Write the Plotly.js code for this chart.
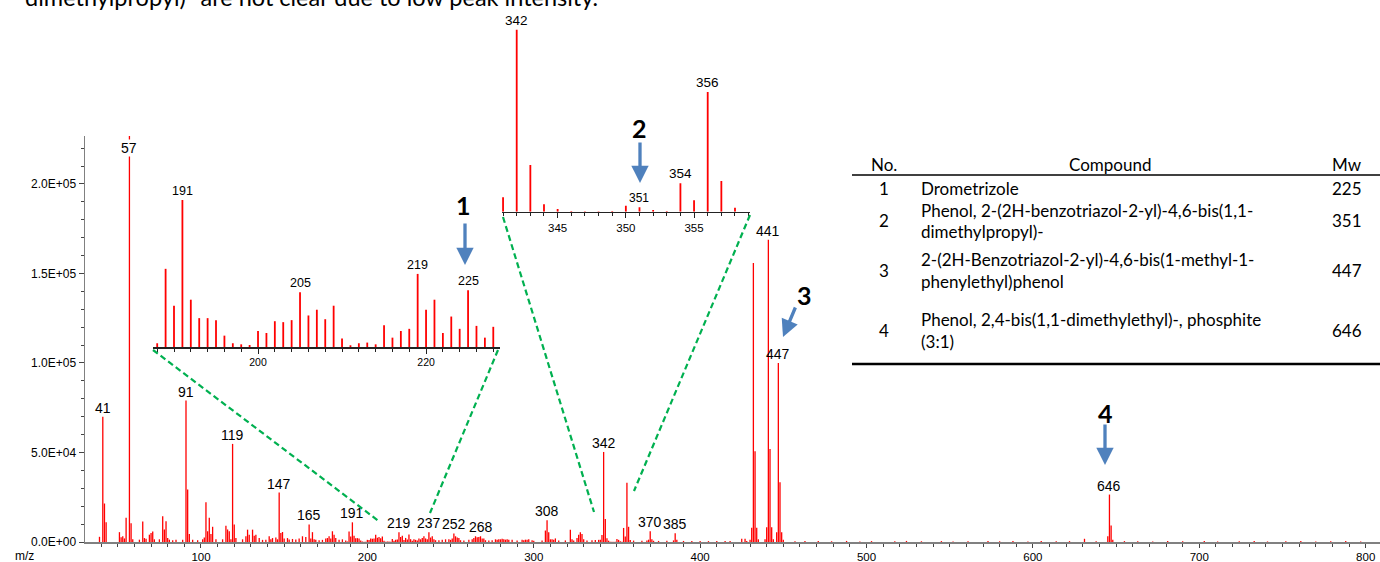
<!DOCTYPE html>
<html><head><meta charset="utf-8">
<script src="https://cdn.plot.ly/plotly-3.0.1.min.js"></script>
<style>html,body{margin:0;padding:0;background:#fff;overflow:hidden}#chart{width:1380px;height:562px}</style>
</head><body><div id="chart"></div>
<script>
// ---------------- data ----------------
const mz = [39,41,42,43,51,52,53,54,55,57,58,59,63,65,66,67,69,70,71,72,75,77,78,79,80,81,83,85,89,
  91,92,93,95,98,101,102,103,104,105,106,107,109,113,115,116,117,118,119,120,121,125,127,128,129,131,132,133,135,137,139,
  141,142,143,145,146,147,148,149,150,152,153,155,157,159,161,163,165,166,167,168,169,171,173,175,176,177,178,179,180,181,183,185,187,
  188,189,190,191,192,193,194,195,196,197,198,199,200,201,202,203,204,205,206,207,208,209,210,211,212,213,214,215,216,217,218,219,220,221,222,223,224,225,226,227,228,
  229,230,231,232,233,234,235,236,237,238,239,240,241,243,245,247,249,250,251,252,253,254,255,256,258,261,263,264,265,266,267,268,269,270,271,273,275,
  277,278,279,280,281,282,283,284,285,287,290,293,294,295,296,297,299,300,305,307,308,309,310,311,312,313,315,319,322,323,324,326,327,328,329,330,332,335,337,339,340,
  341,342,343,344,345,346,347,348,349,350,351,352,353,354,355,356,357,358,
  360,365,368,369,370,371,372,375,380,384,385,386,390,395,400,405,410,415,418,425,427,428,430,
  431,432,433,434,435,439,440,441,442,443,444,446,447,448,449,450,
  457,463,471,479,488,496,503,517,524,533,545,552,561,573,580,588,597,605,614,622,631,638,645,646,647,648,
  655,663,672,681,690,703,711,724,733,741,752,761,770,779,788,797];
const intensity = [2900,70000,21500,11000,5500,2600,3200,2000,13500,230000,10500,1500,1300,11500,2200,1800,4100,5000,5800,1500,1500,14400,7000,11600,2200,1300,1000,1200,1300,
  79000,29300,4500,1200,1000,1500,2500,22200,6000,13600,4500,8500,1500,1500,9100,7000,6000,1500,54800,9800,2200,1500,3200,6900,4100,6900,3500,4100,2200,1200,1300,
  3200,1500,2200,2500,1500,27600,5000,5600,2000,2200,1400,1700,1400,2000,3200,2800,9800,2000,5500,1500,1200,1000,1200,2000,2200,3200,2000,6000,4100,2200,1200,1500,800,
  280,5850,3090,11000,3540,2160,2160,2010,850,280,200,150,1200,1050,1930,1860,2010,4090,2360,2790,2080,3090,630,130,280,330,200,1630,700,1200,1360,5470,2790,3540,1050,2280,1360,4240,1580,700,1510,
  1200,800,2000,1500,2200,3200,2000,1500,5500,2500,3200,1500,1000,1000,1200,1500,1500,1200,2000,4800,3200,2500,2200,1000,800,1200,1500,2200,3200,2600,2800,3200,2000,2000,1000,900,1000,
  1500,1300,1500,1500,1800,1500,1300,1500,1200,1200,900,1300,1000,1300,1200,1500,1000,700,900,6400,12200,5500,1500,1500,1200,2000,800,900,6800,1500,800,2200,4000,5500,4500,1500,900,1000,1100,1200,1200,
  3970,50300,12900,2030,740,180,90,90,180,1660,1200,460,180,7850,3140,33100,8490,1110,
  800,700,900,1300,6000,1500,700,600,700,900,4900,1200,600,500,500,500,600,500,600,1800,1800,600,1200,
  7900,155800,50700,7900,1500,1500,8200,168800,52000,8200,1500,5500,100000,33400,5500,1200,
  400,600,500,400,600,300,500,400,600,400,500,300,400,600,400,500,300,600,400,500,1800,400,3200,26500,9200,1300,
  500,400,300,500,400,500,300,400,500,300,400,500,300,400,500,300];

const mainLabelMz   = [41,57,91,119,147,165,191,219,237,252,268,308,342,370,385,441,447,646];
const inset1LabelMz = [191,205,219,225];
const inset2LabelMz = [342,351,354,356];
const yTickVals = [0,50000,100000,150000,200000];
const yTickText = ['0.0E+00','5.0E+04','1.0E+05','1.5E+05','2.0E+05'];

const tableHeader  = ['No.','Compound','Mw'];
const compoundNo   = ['1','2','3','4'];
const compoundName = ['Drometrizole',
  'Phenol, 2-(2H-benzotriazol-2-yl)-4,6-bis(1,1-<br>dimethylpropyl)-',
  '2-(2H-Benzotriazol-2-yl)-4,6-bis(1-methyl-1-<br>phenylethyl)phenol',
  'Phenol, 2,4-bis(1,1-dimethylethyl)-, phosphite<br>(3:1)'];
const compoundMw   = ['225','351','447','646'];
const noteText = 'dimethylpropyl)- are not clear due to low peak intensity.';

// ---------------- geometry ----------------
const W=1380,H=562,ML=85,MR=0,MT=10,MB=20;
const PW=W-ML-MR, PH=H-MT-MB;
const px = x => (x-ML)/PW;
const py = y => (H-MB-y)/PH;
const yMax = 226800;
const ins1 = {x:[187.5,228.8], y:[0,11750]};
const ins2 = {x:[340.9,359.1], y:[0,51600]};

function sticks(lo, hi){
  const xs=[], ys=[];
  mz.forEach((m,i)=>{ if(m>=lo && m<=hi){ xs.push(m,m,null); ys.push(0,intensity[i],null);} });
  return {xs, ys};
}
const red = '#ff0000';
const sMain = sticks(0, 1000), s1 = sticks(ins1.x[0], ins1.x[1]), s2 = sticks(ins2.x[0], ins2.x[1]);
const traces = [
  {x:sMain.xs, y:sMain.ys, mode:'lines', line:{color:red, width:1.3}, hoverinfo:'skip', xaxis:'x', yaxis:'y'},
  {x:s1.xs, y:s1.ys, mode:'lines', line:{color:red, width:1.8}, hoverinfo:'skip', xaxis:'x2', yaxis:'y2'},
  {x:s2.xs, y:s2.ys, mode:'lines', line:{color:red, width:1.8}, hoverinfo:'skip', xaxis:'x3', yaxis:'y3'}
];

const baseFont = 'Liberation Sans, Arial, sans-serif';
const docFont = 'Lato, Open Sans, sans-serif';
const val = m => intensity[mz.indexOf(m)];
const ann = [];
mainLabelMz.forEach(m=>{
  const v = val(m), clipped = v > yMax;
  ann.push({xref:'x', yref:'y', x:m, y: clipped ? yMax*0.97 : v, xanchor:'center', yanchor: clipped?'middle':'bottom',
    text:String(m), showarrow:false, font:{size:14, color:'#000'}, bgcolor: clipped?'#ffffff':'rgba(0,0,0,0)', borderpad:0});
});
inset1LabelMz.forEach(m=>ann.push({xref:'x2', yref:'y2', x:m, y:val(m), xanchor:'center', yanchor:'bottom', text:String(m), showarrow:false, font:{size:12.5,color:'#000'}}));
inset2LabelMz.forEach(m=>ann.push({xref:'x3', yref:'y3', x:m, y:val(m), xanchor:'center', yanchor:'bottom', text:String(m), showarrow:false, font:{size:m===351?12:13.5,color:'#000'}}));

// paper-positioned text helper (explicit anchors)
function ptext(x, y, text, font, xanchor){
  return {xref:'paper', yref:'paper', x:px(x), y:py(y), xanchor:xanchor||'center', yanchor:'middle', text, showarrow:false, font};
}
ann.push(ptext(24, 556, 'm/z', {family:baseFont, size:12, color:'#000'}));
ann.push(ptext(23, -2.5, noteText, {family:docFont, size:23.5, color:'#000'}, 'left'));

// compound markers and arrows
const blue = '#4F81BD';
const markerPos = [[463,205],[639,128],[804,295],[1105,413]];
const arrowTip  = [[465,265],[640,183],[783,337],[1105,465]];
const arrowTail = [[465,222],[640,141],[796,306],[1105,423]];
compoundNo.forEach((n,i)=>{
  ann.push(ptext(markerPos[i][0], markerPos[i][1], '<b>'+n+'</b>', {family:docFont, size:25, color:'#000'}));
  ann.push({xref:'paper', yref:'paper', x:px(arrowTip[i][0]), y:py(arrowTip[i][1]), text:'', showarrow:true,
    ax:arrowTail[i][0]-arrowTip[i][0], ay:arrowTail[i][1]-arrowTip[i][1], arrowhead:2, arrowsize:1.05, arrowwidth:3.3, arrowcolor:blue, standoff:0});
});

// table
const tFont = {family:docFont, size:17, color:'#000'};
const colX = [884, 1110, 1347];
tableHeader.forEach((t,i)=>ann.push(ptext(colX[i], 165, t, tFont)));
const rowY = [188, 221, 270.5, 330.5];
compoundNo.forEach((n,i)=>{
  ann.push(ptext(884, rowY[i], n, tFont));
  ann.push(ptext(1347, rowY[i], compoundMw[i], tFont));
  const lines = compoundName[i].split('<br>');
  lines.forEach((ln,k)=>{
    const yy = rowY[i] + (k - (lines.length-1)/2)*22;
    ann.push(ptext(919, yy, ln, tFont, 'left'));
  });
});

const green = {color:'#00B050', width:2.2, dash:'6px,3.5px'};
const seg = (a,b,line)=>({type:'line', xref:'paper', yref:'paper', x0:px(a[0]), y0:py(a[1]), x1:px(b[0]), y1:py(b[1]), line});
const shapes = [
  seg([153,350],[380,522],green), seg([498,350],[430,513],green),
  seg([503,217],[594,512],green), seg([750,215],[634,491],green),
  seg([852,175],[1380,175],{color:'#000', width:1.5}),
  seg([852,364],[1380,364],{color:'#000', width:2.6})
];

const tickFont = {family:baseFont, size:12, color:'#000'};
const layout = {
  width:W, height:H, margin:{l:ML, r:MR, t:MT, b:MB, pad:0},
  paper_bgcolor:'#fff', plot_bgcolor:'rgba(0,0,0,0)', showlegend:false,
  font:{family:baseFont, color:'#000'},
  xaxis:{domain:[0,1], range:[30.3,808.6], showgrid:false, zeroline:false, showline:true, linecolor:'#808080', linewidth:1.5,
    tickmode:'linear', tick0:0, dtick:100, ticks:'outside', ticklen:4, tickcolor:'#444', tickfont:{family:baseFont, size:11.5, color:'#000'},
    minor:{tickmode:'linear', tick0:0, dtick:10, ticks:'outside', ticklen:3, tickcolor:'#444', showgrid:false}},
  yaxis:{domain:[0, py(136)], range:[0,yMax], showgrid:false, zeroline:false, showline:true, linecolor:'#808080', linewidth:1.5,
    tickmode:'array', tickvals:yTickVals, ticktext:yTickText, ticks:'outside', ticklen:5, tickcolor:'#444', tickfont:tickFont,
    minor:{tickmode:'linear', tick0:0, dtick:10000, ticks:'outside', ticklen:3, tickcolor:'#444', showgrid:false}},
  xaxis2:{domain:[px(153),px(500)], range:ins1.x, anchor:'y2', showgrid:false, zeroline:false, showline:true, linecolor:'#222', linewidth:1.5,
    tickmode:'linear', tick0:0, dtick:20, ticks:'outside', ticklen:5, tickcolor:'#222', tickfont:{family:baseFont,size:10.5,color:'#000'},
    minor:{tickmode:'linear', tick0:0, dtick:2, ticks:'outside', ticklen:3, tickcolor:'#222', showgrid:false}},
  yaxis2:{domain:[py(347),py(190)], range:ins1.y, anchor:'x2', visible:false},
  xaxis3:{domain:[px(501.7),px(750)], range:ins2.x, anchor:'y3', showgrid:false, zeroline:false, showline:true, linecolor:'#222', linewidth:1.5,
    tickmode:'linear', tick0:0, dtick:5, ticks:'outside', ticklen:5, tickcolor:'#222', tickfont:{family:baseFont,size:11.5,color:'#000'},
    minor:{tickmode:'linear', tick0:0, dtick:1, ticks:'outside', ticklen:3, tickcolor:'#222', showgrid:false}},
  yaxis3:{domain:[py(211.7),py(25)], range:ins2.y, anchor:'x3', visible:false},
  annotations:ann, shapes:shapes
};
Plotly.newPlot('chart', traces, layout, {staticPlot:true, displayModeBar:false});
</script></body></html>
